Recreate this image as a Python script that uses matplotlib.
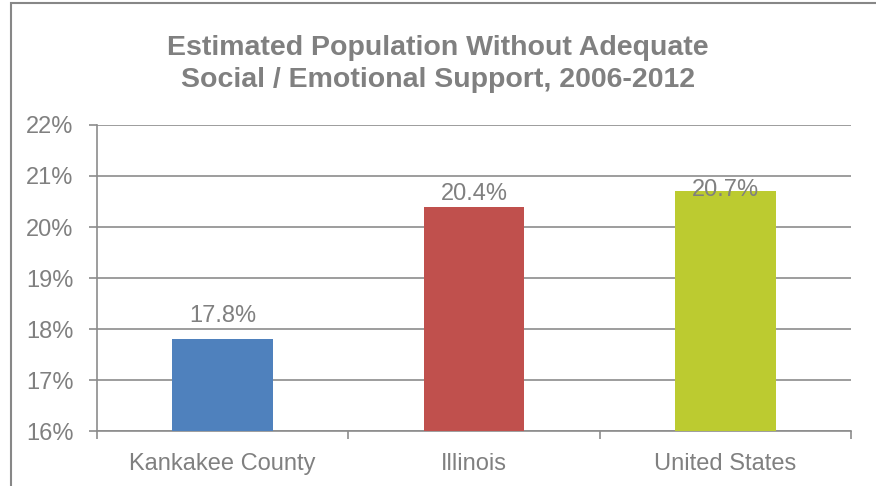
import numpy as np
import matplotlib.pyplot as plt
from matplotlib.patches import Rectangle
from matplotlib.ticker import FixedLocator

# Chart data
categories = ['Kankakee County', 'Illinois', 'United States']
values = [17.8, 20.4, 20.7]
bar_colors = ['#4F81BD', '#C0504D', '#BCCB30']
y_ticks = [16, 17, 18, 19, 20, 21, 22]

# how far each value label sits above its bar (points), as in the original
label_lift = [12.2, 4.7, -3.2]

plt.rcParams['font.family'] = ['Liberation Sans', 'DejaVu Sans']
text_gray = '#808080'
line_gray = '#8C8C8C'

fig = plt.figure(figsize=(8.76, 4.86), dpi=100)
ax = fig.add_axes([97 / 876, 1 - 431 / 486, (851 - 97) / 876, (431 - 125) / 486])

x = np.arange(len(categories))
bars = ax.bar(x, [v - 16 for v in values], bottom=16, width=0.4,
              color=bar_colors, zorder=3)

for xi, v, lift in zip(x, values, label_lift):
    ax.annotate(f'{v:.1f}%', xy=(xi, v), xytext=(0, lift),
                textcoords='offset points', ha='center', va='baseline',
                fontsize=17, color=text_gray, zorder=4)

ax.set_xlim(-0.5, len(categories) - 0.5)
ax.set_ylim(16, 22)
ax.set_yticks(y_ticks)
ax.set_yticklabels([f'{t}%' for t in y_ticks])
ax.set_xticks(x)
ax.set_xticklabels(categories)
ax.xaxis.set_minor_locator(FixedLocator(np.arange(len(categories) + 1) - 0.5))

ax.tick_params(axis='y', labelsize=17, colors=line_gray, labelcolor=text_gray,
               length=6, width=1.2, pad=11)
ax.tick_params(axis='x', which='major', labelsize=17, labelcolor=text_gray,
               length=0, pad=16)
ax.tick_params(axis='x', which='minor', length=6, width=1.2, colors=line_gray)

ax.grid(axis='y', color=line_gray, linewidth=1.2, zorder=0)
for side in ['top', 'right']:
    ax.spines[side].set_visible(False)
for side in ['left', 'bottom']:
    ax.spines[side].set_color(line_gray)
    ax.spines[side].set_linewidth(1.2)

fig.text(0.5, 1 - 48 / 486, 'Estimated Population Without Adequate',
         ha='center', va='center', fontsize=20.5, fontweight='bold', color=text_gray)
fig.text(0.5, 1 - 80 / 486, 'Social / Emotional Support, 2006-2012',
         ha='center', va='center', fontsize=20.5, fontweight='bold', color=text_gray)

# outer chart border (runs off the right and bottom edge)
fig.patches.append(Rectangle((11 / 876, -0.1), 1.0, 1 - 3 / 486 + 0.1,
                             transform=fig.transFigure, fill=False,
                             edgecolor='#878787', linewidth=1.5))

plt.savefig('out.png', dpi=100)
